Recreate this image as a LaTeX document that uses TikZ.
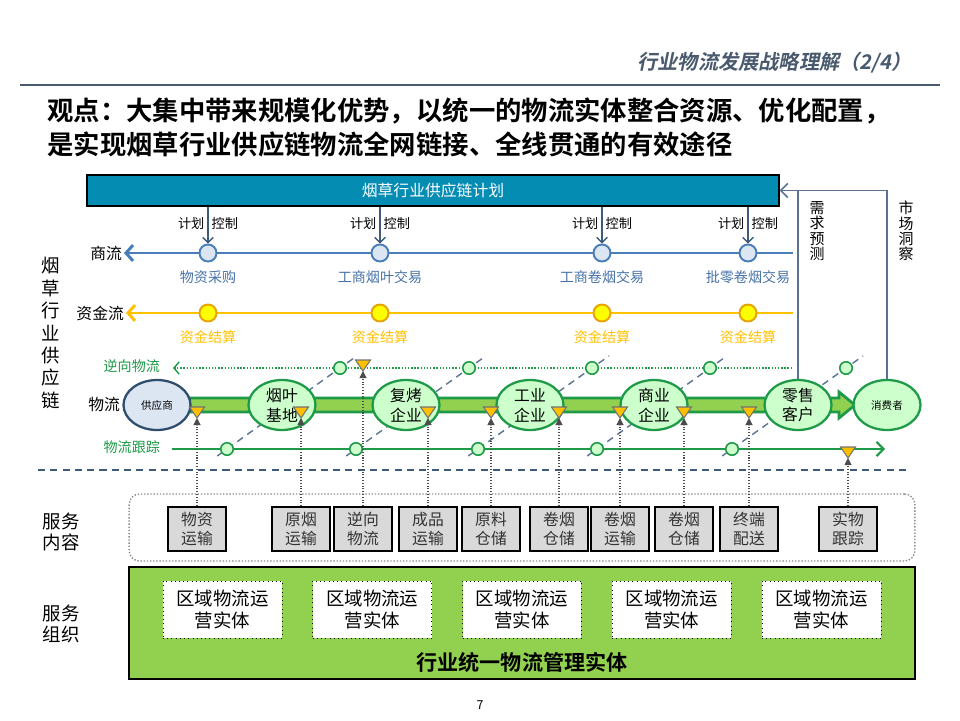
\documentclass[tikz,border=0pt]{standalone}
\usepackage{fontspec}
\setmainfont{Noto Sans CJK SC}[BoldFont={Noto Sans CJK SC Bold}]
\newfontfamily\slantfont{Noto Sans CJK SC Bold}[FakeSlant=0.2]
\usetikzlibrary{arrows.meta,shapes.geometric}
\definecolor{planblue}{HTML}{048CB2}
\definecolor{flowblue}{HTML}{4A7EBB}
\definecolor{flowtext}{HTML}{4772A6}
\definecolor{ctlblue}{HTML}{3E5C7A}
\definecolor{gold}{HTML}{FFC000}
\definecolor{goldedge}{HTML}{E8A200}
\definecolor{coinyellow}{HTML}{FFFF00}
\definecolor{darkgreen}{HTML}{1E9A48}
\definecolor{bandgreen}{HTML}{92D050}
\definecolor{palegreen}{HTML}{CCFFCC}
\definecolor{paleblue}{HTML}{DCE6F2}
\definecolor{gysedge}{HTML}{2F4E6E}
\definecolor{slate}{HTML}{5B7391}
\definecolor{headgray}{HTML}{4A5A6E}
\definecolor{boxgray}{HTML}{D9D9D9}
\tikzset{
  lab/.style={font=\fontsize{8}{9}\selectfont,inner sep=1pt},
  ctrl/.style={circle,draw=flowblue,fill=paleblue,line width=1.1pt,minimum size=0.34cm,inner sep=0pt},
  coin/.style={circle,draw=goldedge,fill=coinyellow,line width=1.1pt,minimum size=0.34cm,inner sep=0pt},
  gdot/.style={circle,draw=darkgreen,fill=palegreen,line width=0.9pt,minimum size=0.25cm,inner sep=0pt},
  party/.style={ellipse,draw=darkgreen,fill=palegreen,line width=1.3pt,minimum width=1.34cm,minimum height=1cm,inner sep=0pt,align=center,font=\fontsize{9}{11.3}\selectfont},
  svc/.style={draw=black,fill=boxgray,line width=0.8pt,minimum width=1.16cm,minimum height=0.88cm,inner sep=0pt,align=center,font=\fontsize{9}{10.8}\selectfont,text=black!80},
  region/.style={draw=black,dotted,fill=white,minimum width=2.38cm,minimum height=1.14cm,inner sep=0pt,align=center,font=\fontsize{10.5}{13}\selectfont},
  sidelab/.style={align=center,inner sep=0pt,font=\fontsize{10.5}{12}\selectfont},
  ctlarrow/.style={draw=ctlblue,line width=0.8pt,-{Straight Barb[length=3pt,width=6pt]}},
  trk/.style={densely dotted,draw=black!70,line width=0.6pt,-{Triangle[width=4pt,length=4pt]}},
  diag/.style={draw=slate,line width=0.8pt,dash pattern=on 4pt off 3pt},
  flag/.pic={\draw[fill=gold,draw=black!55,line width=0.6pt] (-7.5,-11) -- (7.5,-11) -- (0,0) -- cycle;}
}
\begin{document}
\begin{tikzpicture}[x=0.02cm,y=-0.02cm]
\useasboundingbox (0,0) rectangle (960,720);
% header and headline
\node[anchor=east,inner sep=0pt,text=headgray,font=\slantfont\fontsize{11.5}{12}\selectfont] (hd) at (912,63) {行业物流发展战略理解（2/4）};
\draw[headgray,line width=1pt] (20,85) -- (940,85);
\node[anchor=west,inner sep=0pt,font=\bfseries\fontsize{15}{16}\selectfont] (vw1) at (47,111) {观点：大集中带来规模化优势，以统一的物流实体整合资源、优化配置，};
\node[anchor=west,inner sep=0pt,font=\bfseries\fontsize{15}{16}\selectfont] (vw2) at (47,144) {是实现烟草行业供应链物流全网链接、全线贯通的有效途径};

% plan bar
\node[draw=black,fill=planblue,text=white,line width=0.8pt,minimum width=13.84cm,minimum height=0.62cm,font=\fontsize{9}{10}\selectfont] (plan) at (433,190.5) {烟草行业供应链计划};

% left labels
\node[sidelab,font=\fontsize{10.5}{12.75}\selectfont] (side) at (51,333) {烟\\草\\行\\业\\供\\应\\链};
\node[sidelab] (fwnr) at (61,532) {服务\\内容};
\node[sidelab] (fwzz) at (61,624) {服务\\组织};

% commercial flow
\node[anchor=east,inner sep=1pt,font=\fontsize{9}{10}\selectfont] (sclab) at (124,253) {商流};
\coordinate (scR) at (793,253);
\draw[flowblue,line width=1.7pt,-{Straight Barb[length=4pt,width=9pt]}] (scR) -- (sclab.east);
\foreach \n/\x/\t in {1/208/物资采购,2/380/工商烟叶交易,3/602/工商卷烟交易,4/748/批零卷烟交易}{
  \node[ctrl] (sc\n) at (\x,253) {};
  \draw[ctlarrow] (plan.south -| sc\n) -- (sc\n);
  \node[lab,anchor=east,font=\fontsize{7.5}{8}\selectfont] (jh\n) at (\x-1.5,223) {计划};
  \node[lab,anchor=west,font=\fontsize{7.5}{8}\selectfont] (kz\n) at (\x+1.5,223) {控制};
  \node[lab,text=flowtext] (sct\n) at (\x,277) {\t};
}

% money flow
\node[anchor=east,inner sep=1pt,font=\fontsize{9}{10}\selectfont] (zjlab) at (126,313) {资金流};
\coordinate (zjR) at (793,313);
\draw[gold,line width=1.7pt,-{Straight Barb[length=4pt,width=9pt]}] (zjR) -- (zjlab.east);
\foreach \n/\x in {1/208,2/380,3/602,4/748}{
  \node[coin] (zj\n) at (\x,313) {};
  \node[lab,text=gold] (zjt\n) at (\x,337) {资金结算};
}

% diagonals between tracking and reverse flow
\foreach \n/\a/\b in {1/227/340,2/356/469,3/478/592,4/597/710,5/732/846}{
  \coordinate (gz\n) at (\a,449);
  \coordinate (nk\n) at (\b,368);
  \draw[diag,shorten <=-0.24cm,shorten >=-0.42cm] (gz\n) -- (nk\n);
}

% reverse flow and tracking
\node[lab,anchor=east,text=darkgreen] (nklab) at (162,366) {逆向物流};
\coordinate (nkL) at (173,368);
\coordinate (nkR) at (792,368);
\draw[darkgreen,densely dotted,line width=0.8pt,-{Straight Barb[length=3pt,width=7pt]}] (nkR) -- (nkL);
\node[lab,anchor=east,text=darkgreen] (gzlab) at (162,447) {物流跟踪};
\coordinate (gzL) at (172,449);
\coordinate (gzR) at (885,449);
\draw[darkgreen,line width=1.2pt,-{Straight Barb[length=4pt,width=8pt]}] (gzL) -- (gzR);
\foreach \n in {1,...,5}{
  \node[gdot] (gzc\n) at (gz\n) {};
  \node[gdot] (nkc\n) at (nk\n) {};
}

% physical flow band
\node[anchor=east,inner sep=1pt,font=\fontsize{9}{10}\selectfont] (wllab) at (122,404) {物流};
\draw[darkgreen,fill=bandgreen,line width=1.6pt] (175,398) -- (839,398) -- (839,392) -- (855,405) -- (839,418) -- (839,412) -- (175,412) -- cycle;
\node[party,draw=gysedge,fill=paleblue,font=\fontsize{6}{7}\selectfont] (gys) at (157,405) {供应商};
\node[party] (yy) at (282,405) {烟叶\\基地};
\node[party] (fk) at (406,405) {复烤\\企业};
\node[party] (gy) at (530,405) {工业\\企业};
\node[party] (sy) at (654,405) {商业\\企业};
\node[party] (ls) at (798,405) {零售\\客户};
\node[party,font=\fontsize{6}{7}\selectfont] (xfz) at (887,405) {消费者};

% demand feedback
\draw[slate,line width=0.9pt,-{Straight Barb[length=4pt,width=8pt]}] (ls.north) |- (plan.east);
\draw[slate,line width=0.9pt] (xfz.north) |- (ls.north |- plan.east);
\node[sidelab,font=\fontsize{8.5}{8.7}\selectfont] (xqyc) at (817,231) {需\\求\\预\\测};
\node[sidelab,font=\fontsize{8.5}{8.7}\selectfont] (scdc) at (906,231) {市\\场\\洞\\察};

% separator
\draw[ctlblue,line width=0.8pt,dash pattern=on 4pt off 3pt] (38,470) -- (910,470);

% service content
\node[draw=black!45,densely dotted,line width=0.8pt,rounded corners=6pt,minimum width=15.72cm,minimum height=1.34cm] (fwbox) at (522,527.5) {};
\foreach \n/\x/\t in {1/197/物资\\运输,2/301/原烟\\运输,3/363/逆向\\物流,4/428/成品\\运输,5/491/原料\\仓储,6/559/卷烟\\仓储,7/620/卷烟\\运输,8/684/卷烟\\仓储,9/749/终端\\配送,10/848/实物\\跟踪}{
  \node[svc] (fw\n) at (\x,529) {\t};
}
\foreach \n/\y in {1/418,2/418,3/371,4/418,5/418,6/418,7/418,8/418,9/418,10/458}{
  \coordinate (tr\n) at (fw\n.north |- 0,\y);
  \draw[trk] (fw\n.north) -- (tr\n);
  \pic at (tr\n) {flag};
}

% service organisation
\node[draw=black,fill=bandgreen,line width=0.8pt,minimum width=15.72cm,minimum height=2.24cm] (org) at (522,623) {};
\foreach \i in {0,...,4}{
  \node[region] (rg\i) at (222.5+149.75*\i,609.5) {区域物流运\\营实体};
}
\node[font=\bfseries\fontsize{12}{13}\selectfont] (orgt) at (522,662) {行业统一物流管理实体};

\node[font=\fontsize{7}{8}\selectfont] (pg) at (480,705) {7};
\end{tikzpicture}
\end{document}
